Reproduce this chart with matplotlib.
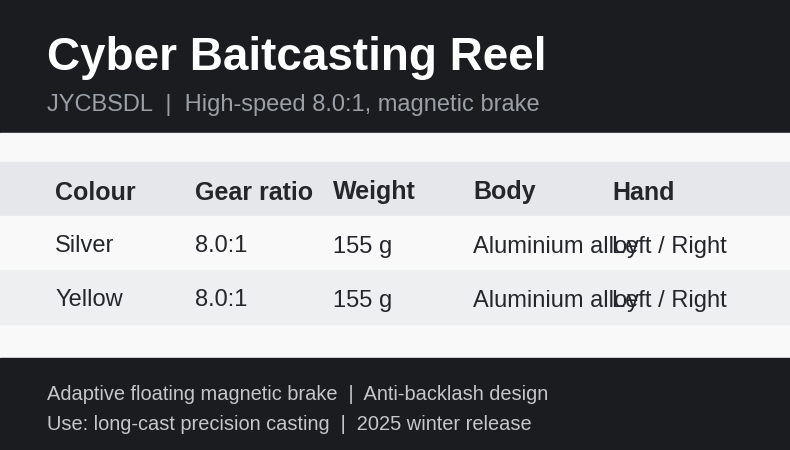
import matplotlib
matplotlib.use('Agg')
import matplotlib.pyplot as plt
from matplotlib.patches import Rectangle

plt.rcParams['font.family'] = ['Liberation Sans', 'DejaVu Sans']

title = "Cyber Baitcasting Reel"
subtitle = "JYCBSDL  |  High-speed 8.0:1, magnetic brake"
columns = ["Colour", "Gear ratio", "Weight", "Body", "Hand"]
colour = ["Silver", "Yellow"]
gear_ratio = ["8.0:1", "8.0:1"]
weight = ["155 g", "155 g"]
body = ["Aluminium alloy", "Aluminium alloy"]
hand = ["Left / Right", "Left / Right"]
footer = ["Adaptive floating magnetic brake  |  Anti-backlash design",
          "Use: long-cast precision casting  |  2025 winter release"]

col_x = [55, 195, 333, 473, 612]

fig = plt.figure(figsize=(7.9, 4.5), dpi=100)
ax = fig.add_axes([0, 0, 1, 1])
ax.set_xlim(0, 790)
ax.set_ylim(450, 0)
ax.axis('off')

dark = '#1b1c20'
ax.add_patch(Rectangle((0, 0), 790, 133, color=dark))
ax.add_patch(Rectangle((0, 133), 790, 225, color='#f9f9f9'))
ax.add_patch(Rectangle((0, 358), 790, 92, color=dark))

ax.text(47, 53, title, color='white', fontsize=33, fontweight='bold', va='center_baseline')
ax.text(47, 102, subtitle, color='#9aa0a8', fontsize=17, va='center_baseline')

row_h = 54
top = 162
ax.add_patch(Rectangle((0, top), 790, row_h, color='#e6e7eb'))
for x, c in zip(col_x, columns):
    ax.text(x, top + row_h / 2 + 1, c, color='#24262b', fontsize=18, fontweight='bold',
            va='center_baseline')

rows = list(zip(colour, gear_ratio, weight, body, hand))
for i, r in enumerate(rows):
    y0 = top + row_h * (i + 1)
    ax.add_patch(Rectangle((0, y0), 790, row_h, color='#f9f9f9' if i % 2 == 0 else '#eeeff1'))
    for x, v in zip(col_x, r):
        ax.text(x, y0 + row_h / 2 + 1, v, color='#24262b', fontsize=17, va='center_baseline')

for j, f in enumerate(footer):
    ax.text(47, 392 + 30 * j, f, color='#c4c7cc', fontsize=14.4, va='center_baseline')

fig.savefig('out.png', dpi=100)
